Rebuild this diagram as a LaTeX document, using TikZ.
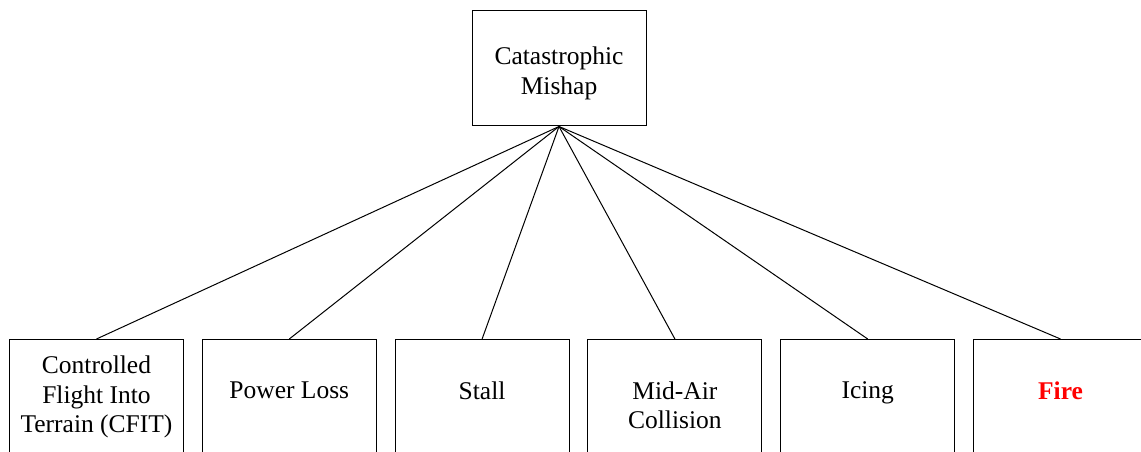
\documentclass[tikz,border=0pt]{standalone}
\usepackage{fontspec}
\setmainfont{Liberation Serif}
\def\capfont{\fontsize{25.5}{29.5}\selectfont}
\definecolor{firered}{RGB}{255,0,0}

\begin{document}
\begin{tikzpicture}[x=1pt,y=1pt,line width=1pt,
    box/.style={draw,minimum width=174pt,inner sep=0pt},
    topbox/.style={box,minimum height=115pt},
    leaf/.style={box,minimum height=140pt,anchor=north},
    txt/.style={anchor=north,inner sep=0pt,align=center,font=\capfont}]
    \path[use as bounding box,clip] (0,0) rectangle (1141,452);
    % top event
    \node[topbox] (mishap) at (559,383.5) {};
    \node[txt] (mishaptxt) at (559,405.4) {Catastrophic\\Mishap};
    % causes
    \node[leaf] (cfit)  at (96.5,113)  {};
    \node[leaf] (power) at (289.3,113) {};
    \node[leaf] (stall) at (482.1,113) {};
    \node[leaf] (midair) at (674.9,113) {};
    \node[leaf] (icing) at (867.7,113) {};
    \node[leaf] (fire)  at (1060.5,113) {};
    \node[txt] (cfittxt)  at (96.5,96.4) {Controlled\\Flight Into\\Terrain (CFIT)};
    \node[txt] (powertxt) at (289.3,71) {Power Loss};
    \node[txt] (stalltxt) at (482.1,71) {Stall};
    \node[txt] (midairtxt) at (674.9,71) {Mid-Air\\Collision};
    \node[txt] (icingtxt) at (867.7,71) {Icing};
    \node[txt,text=firered,font=\capfont\bfseries] (firetxt) at (1060.5,71) {Fire};
    % links
    \draw (mishap.south) -- (cfit.north);
    \draw (mishap.south) -- (power.north);
    \draw (mishap.south) -- (stall.north);
    \draw (mishap.south) -- (midair.north);
    \draw (mishap.south) -- (icing.north);
    \draw (mishap.south) -- (fire.north);
\end{tikzpicture}
\end{document}
